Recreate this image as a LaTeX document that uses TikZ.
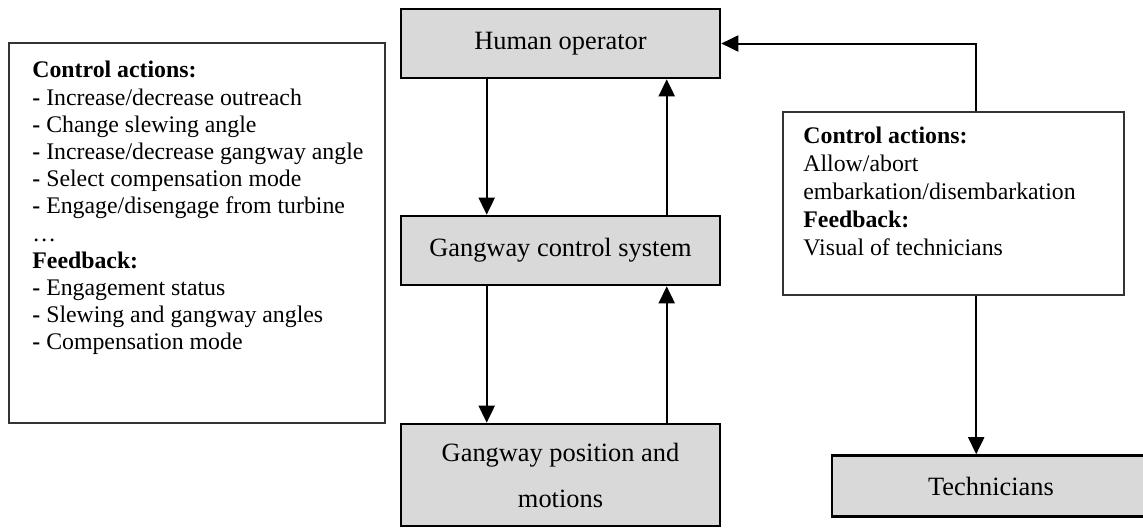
\documentclass[tikz,border=0pt]{standalone}
\usepackage{fontspec}
\setmainfont{Liberation Serif}
\usetikzlibrary{arrows.meta,calc}

\tikzset{
    block/.style={draw=black, line width=1.3pt, fill=gray!30, align=center,
        font=\fontsize{13.2}{16}\selectfont},
    infobox/.style={draw=black!80, line width=0.8pt, fill=white},
    infotext/.style={anchor=north west, inner sep=0pt, align=left},
    arr/.style={line width=1pt, -{Triangle[length=8.5pt,width=8pt]}}
}

\begin{document}
\begin{tikzpicture}[x=0.5pt,y=-0.5pt]
    \useasboundingbox (0,0) rectangle (1143,530);
    \clip (0,0) rectangle (1143,530);

    % Control structure %
    \node[block, minimum width=159.5pt, minimum height=34.5pt] (human) at (560.5,43.5) {Human operator};
    \node[block, minimum width=159.5pt, minimum height=34.5pt] (gcs) at (560.5,250.5) {Gangway control system};
    \node[block, minimum width=159.5pt, minimum height=51pt,
        font=\fontsize{13.2}{23}\selectfont] (gpm) at (560.5,475) {Gangway position and\\motions};
    \node[block, minimum width=159pt, minimum height=30.5pt] (techs) at (991,486) {Technicians};

    % Annotation boxes %
    \node[infobox, minimum width=188pt, minimum height=190pt] (ctrlbox) at (197,233) {};
    \node[infotext, font=\fontsize{11.9}{13.6}\selectfont] (ctrltext) at (32,61) {%
        \textbf{Control actions:}\\
        \textbf{-} Increase/decrease outreach\\
        \textbf{-} Change slewing angle\\
        \textbf{-} Increase/decrease gangway angle\\
        \textbf{-} Select compensation mode\\
        \textbf{-} Engage/disengage from turbine\\
        …\\
        \textbf{Feedback:}\\
        \textbf{-} Engagement status\\
        \textbf{-} Slewing and gangway angles\\
        \textbf{-} Compensation mode};
    \node[infobox, minimum width=170.5pt, minimum height=91.5pt] (techbox) at (953.5,203.5) {};
    \node[infotext, font=\fontsize{11.9}{14}\selectfont] (techtext) at (803,127) {%
        \textbf{Control actions:}\\
        Allow/abort\\
        embarkation/disembarkation\\
        \textbf{Feedback:}\\
        Visual of technicians};

    % Arrows %
    \draw[arr] ([xshift=43.5pt]human.south west) -- ([xshift=43.5pt]gcs.north west);
    \draw[arr] ([xshift=133.5pt]gcs.north west) -- ([xshift=133.5pt]human.south west);
    \draw[arr] ([xshift=43.5pt]gcs.south west) -- ([xshift=43.5pt]gpm.north west);
    \draw[arr] ([xshift=133.5pt]gpm.north west) -- ([xshift=133.5pt]gcs.south west);
    \draw[arr] ([xshift=97pt]techbox.north west) |- (human.east);
    \coordinate (down) at ([xshift=97pt]techbox.south west);
    \draw[arr] (down) -- (down |- techs.north);
\end{tikzpicture}
\end{document}
